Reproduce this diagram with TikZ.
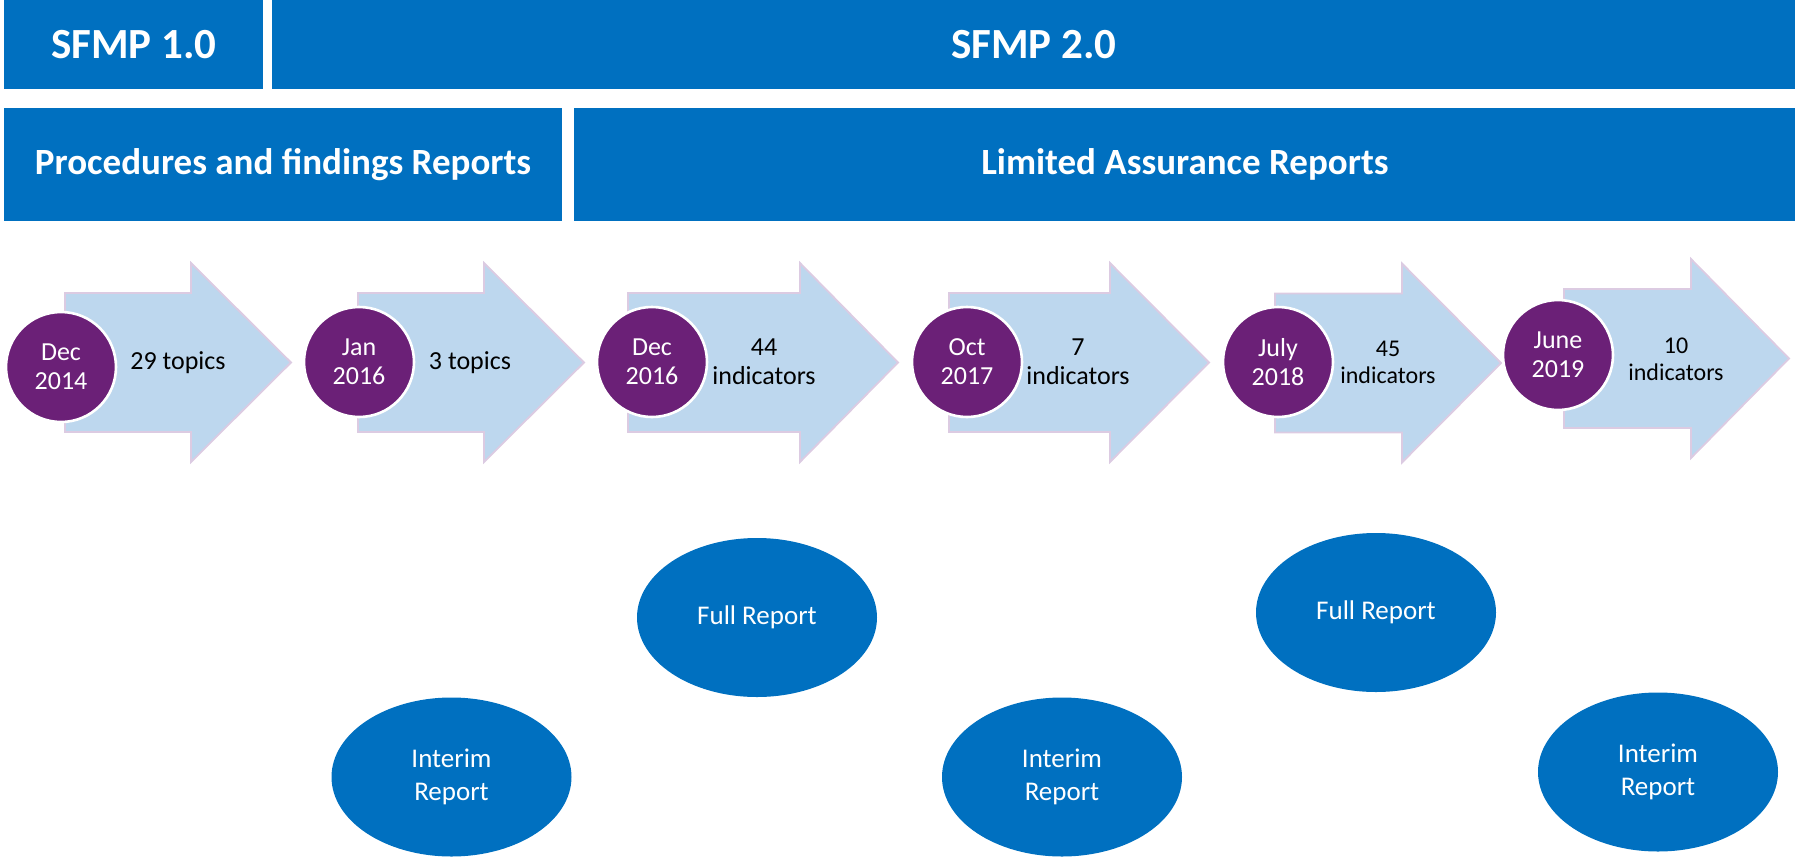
\documentclass[tikz,border=0pt]{standalone}
\usepackage{fontspec}
\setmainfont{Carlito}
\usetikzlibrary{shapes.geometric}
\definecolor{barblue}{HTML}{0070C0}
\definecolor{arrowfill}{HTML}{BDD7EE}
\definecolor{arrowedge}{HTML}{DCCBE2}
\definecolor{datepurple}{HTML}{6B2077}
\tikzset{
  bar/.style={fill=barblue, draw=none, text=white, font=\bfseries, anchor=north west, inner sep=0pt},
  chevron/.style={fill=arrowfill, draw=arrowedge, line width=0.9pt, line join=miter},
  datebubble/.style={circle, fill=datepurple, draw=white, line width=1.3pt, minimum size=55pt, inner sep=0pt, text=white, align=center, font=\fontsize{13}{14.5}\selectfont},
  counttext/.style={text=black, align=center, font=\fontsize{13}{14.5}\selectfont, inner sep=0pt},
  smallcount/.style={text=black, align=center, font=\fontsize{12}{13.5}\selectfont, inner sep=0pt},
  reportbubble/.style={ellipse, fill=barblue, draw=none, minimum width=120pt, minimum height=79.5pt, inner sep=0pt, text=white, align=center, font=\fontsize{13.5}{16.5}\selectfont}
}
\begin{document}
\begin{tikzpicture}[x=0.5pt, y=-0.5pt]
\useasboundingbox (0,0) rectangle (1795,857);
% top bars
\node[bar, minimum width=129.7pt, minimum height=44.35pt, font=\bfseries\fontsize{21.5}{24}\selectfont] (sfmp1) at (3.6,0) {SFMP 1.0};
\node[bar, minimum width=761.5pt, minimum height=44.35pt, font=\bfseries\fontsize{21.5}{24}\selectfont] (sfmp2) at (272,0) {SFMP 2.0};
\node[bar, minimum width=279pt, minimum height=56.5pt, font=\bfseries\fontsize{18.5}{22}\selectfont] (procrep) at (3.6,107.7) {Procedures and findings Reports};
\node[bar, minimum width=610.5pt, minimum height=56.5pt, font=\bfseries\fontsize{18.5}{22}\selectfont] (limrep) at (574,107.7) {Limited Assurance Reports};
% chevrons
\foreach \ta/\ba/\tp/\dy in {65/191/291/0, 358/484/584/0, 628/800/898/0, 949/1110/1209/0, 1275/1402/1501/0.5, 1564/1691/1789/-4}{
  \path[chevron] (\ta,293+\dy) -- (\ba,293+\dy) -- (\ba,263+\dy) -- (\tp,362.5+\dy) -- (\ba,462+\dy) -- (\ba,432+\dy) -- (\ta,432+\dy) -- cycle;
}
% date bubbles
\node[datebubble] (d1) at (61,367) {Dec\\2014};
\node[datebubble] (d2) at (359,362) {Jan\\2016};
\node[datebubble] (d3) at (652,362) {Dec\\2016};
\node[datebubble] (d4) at (967,362) {Oct\\2017};
\node[datebubble] (d5) at (1278,362) {July\\2018};
\node[datebubble] (d6) at (1558,355) {June\\2019};
% counts
\node[counttext] (c1) at (178,363) {29 topics};
\node[counttext] (c2) at (470,363) {3 topics};
\node[counttext] (c3) at (764,362) {44\\indicators};
\node[counttext] (c4) at (1078,362) {7\\indicators};
\node[smallcount] (c5) at (1388,362) {45\\indicators};
\node[smallcount] (c6) at (1676,359) {10\\indicators};
% report bubbles
\node[reportbubble] (full1) at (757,617.5) {Full Report};
\node[reportbubble] (int1) at (451.5,777) {Interim\\Report};
\node[reportbubble] (int2) at (1062,777) {Interim\\Report};
\node[reportbubble] (full2) at (1376,612.5) {Full Report};
\node[reportbubble] (int3) at (1658,772) {Interim\\Report};
\end{tikzpicture}
\end{document}
